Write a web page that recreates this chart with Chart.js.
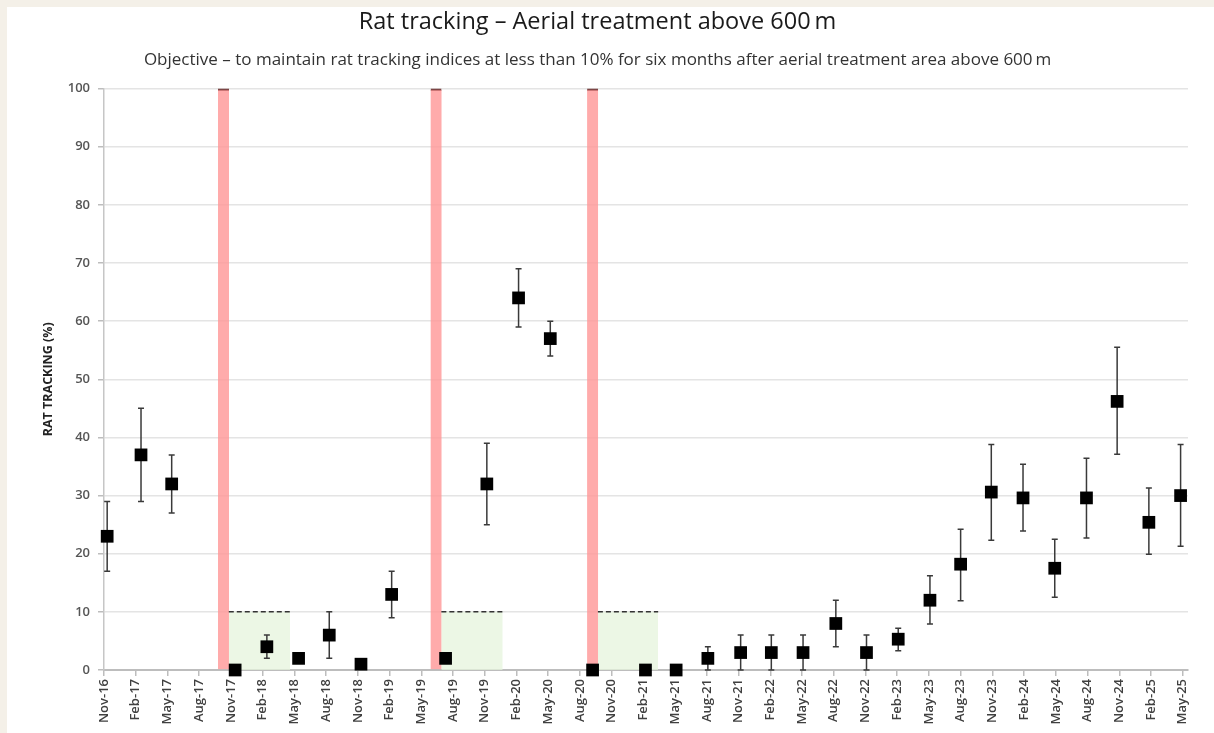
<!DOCTYPE html>
<html>
<head>
<meta charset="utf-8">
<script src="https://cdn.jsdelivr.net/npm/chart.js@4.4.0/dist/chart.umd.min.js"></script>
<style>
  html, body { margin: 0; padding: 0; background: #f4f0e8; }
  .panel { position: absolute; left: 7px; top: 7px; width: 1207px; height: 726px; background: #fff; }
</style>
</head>
<body>
<div class="panel"><canvas id="ratChart"></canvas></div>
<script>
// quarterly tick labels, x axis counted in months from Nov-16
const tickLabels = ['Nov-16', 'Feb-17', 'May-17', 'Aug-17', 'Nov-17', 'Feb-18', 'May-18', 'Aug-18',
    'Nov-18', 'Feb-19', 'May-19', 'Aug-19', 'Nov-19', 'Feb-20', 'May-20', 'Aug-20', 'Nov-20',
    'Feb-21', 'May-21', 'Aug-21', 'Nov-21', 'Feb-22', 'May-22', 'Aug-22', 'Nov-22', 'Feb-23',
    'May-23', 'Aug-23', 'Nov-23', 'Feb-24', 'May-24', 'Aug-24', 'Nov-24', 'Feb-25', 'May-25'];

// survey dates (months after Nov-16) and tracking index (%)
const surveyMonths = [0.3, 3.5, 6.4, 12.4, 15.4, 18.4, 21.3, 24.3, 27.2, 32.3, 36.2, 39.2, 42.2, 46.2,
    51.2, 54.1, 57.1, 60.2, 63.1, 66.1, 69.2, 72.1, 75.1, 78.1, 81.0, 83.9, 86.9, 89.9, 92.9, 95.8, 98.8, 101.8];
const tracking = [23, 37, 32, 0, 4, 2, 6, 1, 13, 2, 32, 64, 57, 0, 0, 0, 2, 3, 3, 3, 8, 3, 5.3, 12, 18.2,
    30.6, 29.6, 17.5, 29.6, 46.2, 25.4, 30];
const lower = [17, 29, 27, null, 2, null, 2, null, 9, null, 25, 59, 54, null, null, null, 0, 0, 0, 0, 4, 0,
    3.3, 7.9, 11.9, 22.3, 23.9, 12.5, 22.7, 37.1, 19.9, 21.3];
const upper = [29, 45, 37, null, 6, null, 10, null, 17, null, 39, 69, 60, null, null, null, 4, 6, 6, 6, 12, 6,
    7.2, 16.2, 24.2, 38.8, 35.4, 22.5, 36.4, 55.5, 31.3, 38.8];

// aerial treatments and the six month target windows after them
const treatmentMonths = [11.3, 31.4, 46.2];
const windowStart = [11.8, 31.9, 46.7];
const windowEnd = [17.6, 37.7, 52.4];
const target = 10;

const errorBars = {
    id: 'errorBars',
    beforeDatasetDraw(chart, args) {
        if (args.index !== 0) return;
        const { ctx, scales: { x, y } } = chart;
        ctx.save();
        ctx.strokeStyle = '#3a3a3a';
        ctx.lineWidth = 1.5;
        surveyMonths.forEach((m, i) => {
            if (lower[i] == null) return;
            const px = x.getPixelForValue(m);
            const top = y.getPixelForValue(upper[i]);
            const bot = y.getPixelForValue(lower[i]);
            ctx.beginPath();
            ctx.moveTo(px, top); ctx.lineTo(px, bot);
            ctx.moveTo(px - 3, top); ctx.lineTo(px + 3, top);
            ctx.moveTo(px - 3, bot); ctx.lineTo(px + 3, bot);
            ctx.stroke();
        });
        ctx.restore();
    }
};

const datasets = [
    {
        type: 'scatter',
        label: 'Rat tracking',
        data: surveyMonths.map((m, i) => ({ x: m, y: tracking[i] })),
        pointStyle: 'rect',
        pointRadius: 9,
        backgroundColor: '#000',
        borderColor: '#000',
        borderWidth: 0,
        clip: false,
        order: 0
    },
    {
        type: 'bar',
        label: 'Aerial treatment',
        data: treatmentMonths.map(m => ({ x: m, y: 100 })),
        backgroundColor: 'rgba(255, 150, 150, 0.8)',
        borderColor: '#7d4545',
        borderWidth: { top: 2, left: 0, right: 0, bottom: 0 },
        borderSkipped: 'start',
        barThickness: 11,
        grouped: false,
        order: 3
    }
];

windowStart.forEach((s, i) => {
    datasets.push({
        type: 'line',
        label: 'Target',
        data: [{ x: s, y: target }, { x: windowEnd[i], y: target }],
        borderColor: '#333',
        borderWidth: 1.5,
        borderDash: [5, 3],
        backgroundColor: 'rgba(230, 244, 220, 0.75)',
        fill: 'origin',
        pointRadius: 0,
        order: 2
    });
});

const tickFont = { family: 'Open Sans', size: 13, weight: '600' };

new Chart(document.getElementById('ratChart'), {
    type: 'scatter',
    data: { datasets: datasets },
    options: {
        responsive: true,
        maintainAspectRatio: false,
        animation: false,
        layout: { padding: { left: 0, right: 26, top: 0, bottom: 0 } },
        plugins: {
            legend: { display: false },
            tooltip: { enabled: false },
            title: {
                display: true,
                text: 'Rat tracking \u2013 Aerial treatment above 600\u2009m',
                color: '#1a1a1a',
                font: { family: 'Open Sans', size: 23.5, weight: '400' },
                padding: { top: 1, bottom: 10 }
            },
            subtitle: {
                display: true,
                text: 'Objective \u2013 to maintain rat tracking indices at less than 10% for six months after aerial treatment area above 600\u2009m',
                color: '#333',
                font: { family: 'Open Sans', size: 17 },
                padding: { top: 4, bottom: 18 }
            }
        },
        scales: {
            x: {
                type: 'linear',
                min: 0,
                max: 102.5,
                offset: false,
                afterFit: s => { s.height = 63; },
                grid: { drawOnChartArea: false, offset: false, tickLength: 6, color: '#bdbdbd', lineWidth: 1.5 },
                border: { color: '#bdbdbd', width: 2 },
                ticks: {
                    stepSize: 3,
                    includeBounds: false,
                    autoSkip: false,
                    minRotation: 90,
                    maxRotation: 90,
                    padding: 3,
                    color: '#404040',
                    font: tickFont,
                    callback: v => tickLabels[Math.round(v / 3)]
                }
            },
            y: {
                min: 0,
                max: 100,
                afterFit: s => { s.width = 97; },
                grid: { color: '#e4e4e4', lineWidth: 1.5, tickLength: 6, tickColor: '#bdbdbd' },
                border: { color: '#c6c6c6', width: 1.5 },
                ticks: { stepSize: 10, padding: 8, color: '#555', font: tickFont },
                title: {
                    display: true,
                    text: 'RAT TRACKING (%)',
                    color: '#222',
                    font: { family: 'Open Sans', size: 12.5, weight: '700' },
                    padding: { top: 34 }
                }
            }
        }
    },
    plugins: [errorBars]
});
</script>
</body>
</html>
